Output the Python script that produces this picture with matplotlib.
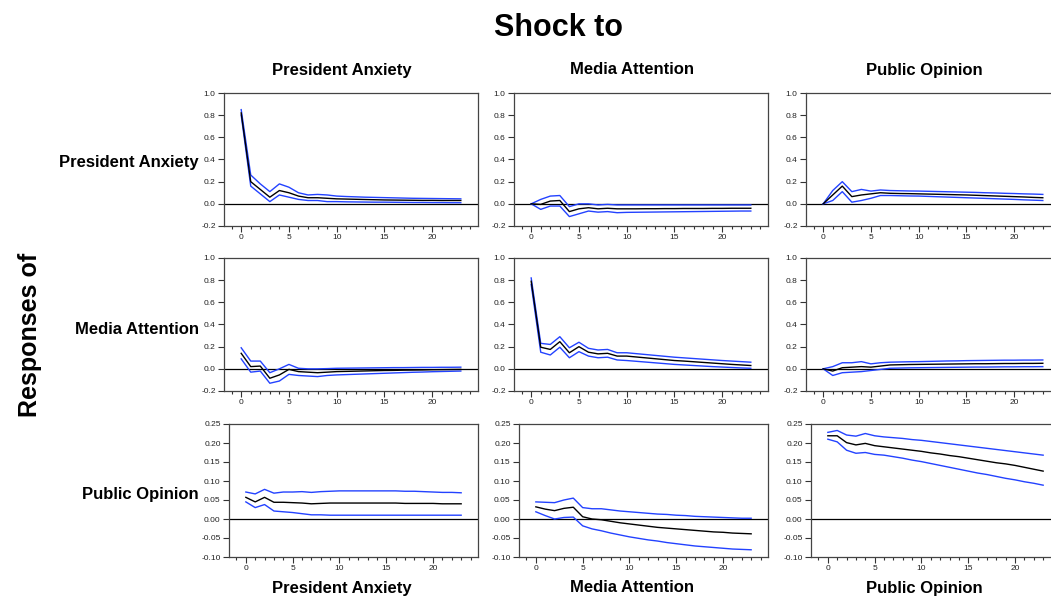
import numpy as np
import matplotlib
matplotlib.use('Agg')
import matplotlib.pyplot as plt
from matplotlib.ticker import MultipleLocator, FormatStrFormatter

plt.rcParams['font.family'] = ['Liberation Sans', 'DejaVu Sans']

names = ['President Anxiety', 'Media Attention', 'Public Opinion']
h = np.arange(24)

# responses of President Anxiety
pa_pa = [0.82, 0.20, 0.13, 0.06, 0.12, 0.10, 0.07, 0.055, 0.055, 0.05, 0.045, 0.043, 0.041, 0.039,
         0.037, 0.035, 0.034, 0.033, 0.032, 0.031, 0.031, 0.030, 0.030, 0.030]
pa_pa_up = [0.85, 0.26, 0.18, 0.11, 0.18, 0.15, 0.10, 0.08, 0.085, 0.08, 0.07, 0.066, 0.063, 0.06,
            0.058, 0.056, 0.054, 0.052, 0.05, 0.049, 0.048, 0.047, 0.046, 0.045]
pa_pa_lo = [0.80, 0.16, 0.09, 0.02, 0.08, 0.06, 0.04, 0.03, 0.03, 0.02, 0.02, 0.018, 0.017, 0.016,
            0.015, 0.015, 0.014, 0.013, 0.012, 0.012, 0.011, 0.011, 0.010, 0.010]

ma_pa = [0.0, -0.005, 0.025, 0.03, -0.07, -0.045, -0.035, -0.045, -0.04, -0.045, -0.045, -0.045,
         -0.044, -0.044, -0.043, -0.043, -0.042, -0.042, -0.042, -0.041, -0.041, -0.040, -0.040, -0.040]
ma_pa_up = [0.0, 0.04, 0.07, 0.075, -0.025, 0.0, 0.0, -0.01, -0.005, -0.01, -0.01, -0.01, -0.01,
            -0.01, -0.01, -0.01, -0.01, -0.01, -0.01, -0.01, -0.01, -0.01, -0.01, -0.01]
ma_pa_lo = [0.0, -0.05, -0.02, -0.02, -0.115, -0.09, -0.065, -0.075, -0.07, -0.08, -0.077, -0.076,
            -0.075, -0.074, -0.073, -0.072, -0.071, -0.070, -0.069, -0.068, -0.067, -0.066, -0.065, -0.065]

po_pa = [0.0, 0.08, 0.16, 0.065, 0.08, 0.09, 0.10, 0.095, 0.093, 0.092, 0.09, 0.088, 0.086, 0.084,
         0.082, 0.08, 0.077, 0.074, 0.071, 0.068, 0.065, 0.062, 0.058, 0.055]
po_pa_up = [0.0, 0.12, 0.20, 0.11, 0.13, 0.115, 0.125, 0.12, 0.118, 0.116, 0.115, 0.113, 0.111,
            0.109, 0.107, 0.105, 0.103, 0.100, 0.098, 0.095, 0.093, 0.090, 0.088, 0.085]
po_pa_lo = [0.0, 0.03, 0.11, 0.015, 0.03, 0.05, 0.075, 0.075, 0.073, 0.071, 0.07, 0.067, 0.064,
            0.061, 0.058, 0.055, 0.052, 0.049, 0.046, 0.043, 0.040, 0.036, 0.033, 0.030]

# responses of Media Attention
pa_ma = [0.14, 0.02, 0.025, -0.085, -0.055, -0.005, -0.025, -0.03, -0.035, -0.03, -0.025, -0.023,
         -0.021, -0.019, -0.017, -0.015, -0.014, -0.012, -0.011, -0.010, -0.008, -0.007, -0.006, -0.005]
pa_ma_up = [0.19, 0.07, 0.07, -0.035, 0.0, 0.04, 0.005, 0.0, 0.0, 0.002, 0.005, 0.006, 0.007,
            0.008, 0.009, 0.010, 0.011, 0.011, 0.012, 0.013, 0.013, 0.014, 0.014, 0.015]
pa_ma_lo = [0.09, -0.03, -0.02, -0.13, -0.11, -0.05, -0.06, -0.065, -0.07, -0.06, -0.055, -0.052,
            -0.049, -0.046, -0.043, -0.040, -0.037, -0.034, -0.031, -0.029, -0.026, -0.024, -0.022, -0.02]

ma_ma = [0.79, 0.195, 0.175, 0.245, 0.145, 0.20, 0.15, 0.135, 0.14, 0.115, 0.115, 0.107, 0.099,
         0.091, 0.083, 0.075, 0.070, 0.064, 0.058, 0.052, 0.046, 0.040, 0.035, 0.030]
ma_ma_up = [0.82, 0.23, 0.22, 0.29, 0.19, 0.24, 0.185, 0.17, 0.175, 0.145, 0.145, 0.137, 0.129,
            0.121, 0.113, 0.105, 0.099, 0.093, 0.087, 0.081, 0.075, 0.070, 0.065, 0.060]
ma_ma_lo = [0.76, 0.15, 0.125, 0.195, 0.10, 0.155, 0.115, 0.10, 0.105, 0.08, 0.075, 0.068, 0.061,
            0.054, 0.047, 0.040, 0.035, 0.030, 0.025, 0.020, 0.016, 0.012, 0.008, 0.005]

po_ma = [0.0, -0.02, 0.01, 0.015, 0.02, 0.015, 0.025, 0.035, 0.037, 0.039, 0.04, 0.041, 0.042,
         0.043, 0.044, 0.045, 0.046, 0.046, 0.047, 0.048, 0.048, 0.049, 0.049, 0.050]
po_ma_up = [0.0, 0.02, 0.055, 0.055, 0.065, 0.045, 0.055, 0.06, 0.062, 0.064, 0.065, 0.067, 0.069,
            0.071, 0.072, 0.074, 0.075, 0.076, 0.077, 0.078, 0.078, 0.079, 0.079, 0.080]
po_ma_lo = [0.0, -0.06, -0.035, -0.03, -0.025, -0.015, -0.005, 0.005, 0.007, 0.009, 0.01, 0.011,
            0.012, 0.013, 0.014, 0.015, 0.016, 0.016, 0.017, 0.018, 0.018, 0.019, 0.019, 0.020]

# responses of Public Opinion
pa_po = [0.057, 0.045, 0.057, 0.044, 0.044, 0.043, 0.042, 0.040, 0.041, 0.042, 0.042, 0.042, 0.042,
         0.042, 0.042, 0.042, 0.042, 0.041, 0.041, 0.041, 0.041, 0.040, 0.040, 0.040]
pa_po_up = [0.071, 0.066, 0.078, 0.068, 0.071, 0.071, 0.072, 0.070, 0.072, 0.073, 0.074, 0.074,
            0.074, 0.074, 0.074, 0.074, 0.074, 0.073, 0.073, 0.072, 0.071, 0.070, 0.070, 0.069]
pa_po_lo = [0.045, 0.030, 0.038, 0.021, 0.019, 0.017, 0.014, 0.011, 0.011, 0.010, 0.010, 0.010,
            0.010, 0.010, 0.010, 0.010, 0.010, 0.010, 0.010, 0.010, 0.010, 0.010, 0.010, 0.010]

ma_po = [0.032, 0.026, 0.022, 0.028, 0.031, 0.006, 0.0, -0.002, -0.006, -0.010, -0.013, -0.016,
         -0.019, -0.022, -0.024, -0.026, -0.028, -0.030, -0.032, -0.034, -0.035, -0.037, -0.038, -0.039]
ma_po_up = [0.045, 0.044, 0.043, 0.050, 0.055, 0.030, 0.027, 0.027, 0.024, 0.021, 0.019, 0.017,
            0.015, 0.013, 0.012, 0.010, 0.009, 0.007, 0.006, 0.005, 0.004, 0.003, 0.002, 0.002]
ma_po_lo = [0.019, 0.009, 0.0, 0.004, 0.005, -0.018, -0.026, -0.031, -0.037, -0.042, -0.047, -0.051,
            -0.055, -0.058, -0.062, -0.065, -0.068, -0.071, -0.073, -0.075, -0.077, -0.079, -0.080, -0.081]

po_po = [0.219, 0.219, 0.201, 0.195, 0.199, 0.193, 0.190, 0.187, 0.184, 0.181, 0.178, 0.174, 0.171,
         0.167, 0.164, 0.160, 0.156, 0.152, 0.148, 0.145, 0.141, 0.136, 0.131, 0.126]
po_po_up = [0.228, 0.233, 0.221, 0.218, 0.225, 0.219, 0.216, 0.214, 0.212, 0.209, 0.207, 0.204,
            0.201, 0.198, 0.195, 0.192, 0.189, 0.186, 0.183, 0.180, 0.177, 0.174, 0.171, 0.168]
po_po_lo = [0.210, 0.203, 0.181, 0.173, 0.175, 0.170, 0.168, 0.164, 0.160, 0.155, 0.151, 0.146,
            0.141, 0.136, 0.131, 0.126, 0.121, 0.117, 0.112, 0.107, 0.103, 0.098, 0.094, 0.089]

# rows = response, cols = shock
resp = [[(pa_pa, pa_pa_up, pa_pa_lo), (ma_pa, ma_pa_up, ma_pa_lo), (po_pa, po_pa_up, po_pa_lo)],
        [(pa_ma, pa_ma_up, pa_ma_lo), (ma_ma, ma_ma_up, ma_ma_lo), (po_ma, po_ma_up, po_ma_lo)],
        [(pa_po, pa_po_up, pa_po_lo), (ma_po, ma_po_up, ma_po_lo), (po_po, po_po_up, po_po_lo)]]

W, H = 1051, 599
fig = plt.figure(figsize=(W/100, H/100), dpi=100)

lefts = [224, 514, 806]
col_w = 254
tops = [93, 258, 424]
row_h = 133
blue = '#2342ff'

for i in range(3):
    for j in range(3):
        lft = lefts[j] + (5 if i == 2 else 0)
        ax = fig.add_axes([lft/W, 1-(tops[i]+row_h)/H, (col_w - (5 if i == 2 else 0))/W, row_h/H])
        c, up, lo = resp[i][j]
        ax.axhline(0, color='black', lw=0.9, zorder=1)
        ax.plot(h, up, color=blue, lw=1.0)
        ax.plot(h, lo, color=blue, lw=1.0)
        ax.plot(h, c, color='black', lw=1.0)
        ax.set_xlim(-1.8, 24.8)
        if i < 2:
            ax.set_ylim(-0.2, 1.0)
            ax.yaxis.set_major_locator(MultipleLocator(0.2))
            ax.yaxis.set_major_formatter(FormatStrFormatter('%.1f'))
        else:
            ax.set_ylim(-0.10, 0.25)
            ax.yaxis.set_major_locator(MultipleLocator(0.05))
            ax.yaxis.set_major_formatter(FormatStrFormatter('%.2f'))
        ax.xaxis.set_major_locator(MultipleLocator(5))
        ax.xaxis.set_minor_locator(MultipleLocator(1))
        ax.tick_params(which='both', direction='out', labelsize=6, color='#333333',
                       labelcolor='#222222', width=0.8, pad=2)
        ax.tick_params(which='major', length=4)
        ax.tick_params(which='minor', length=2)
        for s in ax.spines.values():
            s.set_color('#444444')
            s.set_linewidth(0.9)

fig.text(559/W, 1-28/H, 'Shock to', ha='center', va='center', fontsize=22, fontweight='bold')
for j, nm in enumerate(names):
    cx = (lefts[j] + 118) / W
    fig.text(cx, 1-70/H, nm, ha='center', va='center', fontsize=12, fontweight='bold')
    fig.text(cx, 1-588/H, nm, ha='center', va='center', fontsize=12, fontweight='bold')
row_y = [163, 329, 494]
for i, nm in enumerate(names):
    fig.text(199/W, 1-row_y[i]/H, nm, ha='right', va='center', fontsize=12, fontweight='bold')
fig.text(30/W, 1-335/H, 'Responses of', ha='center', va='center', rotation=90,
         fontsize=18, fontweight='bold')

fig.savefig('out.png', dpi=100)
